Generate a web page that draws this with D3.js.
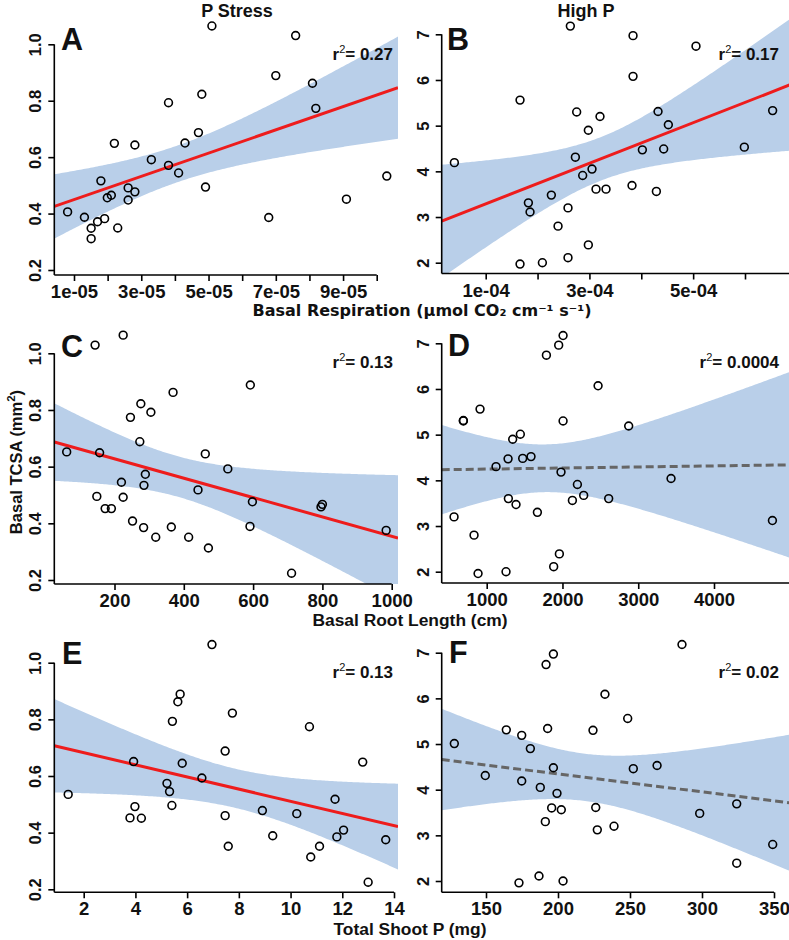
<!DOCTYPE html>
<html>
<head>
<meta charset="utf-8">
<script src="https://cdn.jsdelivr.net/npm/d3@7/dist/d3.min.js"></script>
<style>
  body { margin: 0; background: #fff; }
  svg text { font-family: "Liberation Sans", Arial, sans-serif; font-weight: bold; fill: #111; }
</style>
</head>
<body>
<svg id="chart" width="789" height="940"></svg>
<script>
'use strict';

// ---- data ----
// A: P stress, basal respiration vs TCSA
const aX = [0.81e-5, 1.31e-5, 1.51e-5, 1.51e-5, 1.70e-5, 1.91e-5, 1.80e-5, 1.99e-5, 2.11e-5, 2.20e-5,
            2.30e-5, 2.61e-5, 2.61e-5, 2.81e-5, 2.81e-5, 3.30e-5, 3.81e-5, 3.81e-5, 4.11e-5, 4.30e-5,
            4.70e-5, 4.80e-5, 4.91e-5, 5.10e-5, 6.79e-5, 7.00e-5, 7.59e-5, 8.09e-5, 8.19e-5, 9.10e-5, 10.30e-5];
const aY = [0.406, 0.387, 0.348, 0.311, 0.371, 0.382, 0.516, 0.456, 0.465, 0.649,
            0.349, 0.491, 0.448, 0.477, 0.643, 0.591, 0.793, 0.571, 0.544, 0.650,
            0.687, 0.823, 0.494, 1.065, 0.386, 0.889, 1.031, 0.862, 0.773, 0.451, 0.533];
// B: high P, basal respiration vs TCSA
const bX = [0.396e-4, 1.662e-4, 1.823e-4, 1.855e-4, 1.662e-4, 2.093e-4, 2.266e-4, 2.395e-4, 2.587e-4, 2.587e-4,
            2.632e-4, 2.729e-4, 2.754e-4, 2.870e-4, 2.979e-4, 2.979e-4, 3.050e-4, 3.127e-4, 3.204e-4, 3.320e-4,
            3.821e-4, 3.841e-4, 3.841e-4, 4.021e-4, 4.291e-4, 4.323e-4, 4.432e-4, 4.522e-4, 5.055e-4, 5.987e-4, 6.533e-4];
const bY = [4.19, 5.56, 3.31, 3.11, 1.97, 2.00, 3.48, 2.80, 3.20, 2.11,
            7.18, 4.31, 5.30, 3.91, 4.90, 2.39, 4.05, 3.61, 5.20, 3.61,
            3.69, 6.97, 6.08, 4.47, 3.56, 5.31, 4.49, 5.02, 6.74, 4.53, 5.33];
// C: P stress, basal root length vs TCSA
const cX = [62, 144, 157, 149, 173, 191, 225, 220, 225, 246, 252, 276, 273, 284, 289, 285,
            305, 319, 364, 369, 414, 441, 462, 471, 527, 592, 591, 598, 711, 796, 800, 984];
const cY = [0.652, 1.029, 0.649, 0.495, 0.452, 0.452, 1.064, 0.545, 0.492, 0.774, 0.408, 0.822, 0.688, 0.385, 0.573, 0.534,
            0.792, 0.351, 0.387, 0.862, 0.351, 0.518, 0.645, 0.313, 0.592, 0.888, 0.389, 0.476, 0.224, 0.458, 0.467, 0.375];
// D: high P, basal root length vs TCSA
const dX = [569, 692, 692, 833, 886, 912, 1123, 1255, 1282, 1286, 1343, 1387, 1444, 1475, 1585, 1669,
            1788, 1884, 1950, 1959, 1981, 2008, 2008, 2131, 2197, 2280, 2470, 2610, 2874, 3433, 4771];
const dY = [3.20, 5.31, 5.30, 2.80, 1.96, 5.56, 4.30, 2.00, 4.47, 3.60, 4.90, 3.47, 5.01, 4.48, 4.52, 3.30,
            6.74, 2.11, 6.96, 2.39, 4.18, 7.17, 5.30, 3.56, 3.91, 3.67, 6.07, 3.60, 5.19, 4.04, 3.12];
// E: P stress, total shoot P vs TCSA
const eX = [1.40, 3.79, 3.93, 3.98, 4.23, 5.22, 5.32, 5.41, 5.43, 5.64, 5.73, 5.81, 6.57, 6.96, 7.47,
            7.47, 7.59, 7.75, 8.91, 9.31, 10.24, 10.73, 10.78, 11.12, 11.72, 11.79, 12.05, 12.79, 13.00, 13.68];
const eY = [0.535, 0.452, 0.651, 0.492, 0.451, 0.574, 0.545, 0.496, 0.793, 0.862, 0.889, 0.645, 0.593, 1.064, 0.688,
            0.460, 0.352, 0.822, 0.478, 0.389, 0.467, 0.774, 0.314, 0.352, 0.518, 0.385, 0.409, 0.649, 0.225, 0.375];
// F: high P, total shoot P vs TCSA
const fX = [128, 149.5, 164.1, 174.8, 174.8, 180.8, 172.9, 186.8, 187.7, 191.2, 191.7, 192.8, 195.6, 196.8, 196.8, 199.3,
            202.3, 203.5, 224.3, 226.2, 227.3, 232.6, 238.9, 248.4, 252.3, 268.8, 286.1, 298.4, 324.1, 324.1, 349.1];
const fY = [5.01, 4.31, 5.31, 5.19, 4.19, 4.90, 1.96, 2.11, 4.05, 3.30, 6.74, 5.34, 3.60, 6.97, 4.48, 3.92,
            3.56, 2.00, 5.30, 3.61, 3.12, 6.09, 3.20, 5.56, 4.46, 4.53, 7.18, 3.48, 3.69, 2.39, 2.80];

// ---- ticks ----
const respTicksA = [1e-5, 2e-5, 3e-5, 4e-5, 5e-5, 6e-5, 7e-5, 8e-5, 9e-5, 1e-4];
const respLabelsA = ['1e-05', '', '3e-05', '', '5e-05', '', '7e-05', '', '9e-05', ''];
const respTicksB = [1e-4, 2e-4, 3e-4, 4e-4, 5e-4, 6e-4, 7e-4];
const respLabelsB = ['1e-04', '', '3e-04', '', '5e-04', '', ''];
const rootTicksC = [200, 400, 600, 800, 1000];
const rootLabelsC = ['200', '400', '600', '800', '1000'];
const rootTicksD = [1000, 2000, 3000, 4000, 5000];
const rootLabelsD = ['1000', '2000', '3000', '4000', ''];
const shootTicksE = [2, 4, 6, 8, 10, 12, 14];
const shootLabelsE = ['2', '4', '6', '8', '10', '12', '14'];
const shootTicksF = [150, 200, 250, 300, 350];
const shootLabelsF = ['150', '200', '250', '300', '350'];
const tcsaTicksStress = [0.2, 0.4, 0.6, 0.8, 1.0];
const tcsaLabelsStress = ['0.2', '0.4', '0.6', '0.8', '1.0'];
const tcsaTicksHigh = [2, 3, 4, 5, 6, 7];
const tcsaLabelsHigh = ['2', '3', '4', '5', '6', '7'];

const letters = ['A', 'B', 'C', 'D', 'E', 'F'];
const r2Labels = ['0.27', '0.17', '0.13', '0.0004', '0.13', '0.02'];
const significant = [true, true, true, false, true, false];

// ---- layout (pixels) ----
// xa: the two ticks whose pixel positions (xpx) were measured
const LEFT = { x0: 54.3, x1: 398 };
const RIGHT = { x0: 441.7, x1: 800 };
const panels = [
  { xs: aX, ys: aY, xt: respTicksA, xl: respLabelsA, yt: tcsaTicksStress, yl: tcsaLabelsStress,
    col: LEFT, bottom: 275, xa: [1e-5, 1e-4], xpx: [74, 376.7], ypx: [270, 44.3], letter: [61, 50], r2: [393, 60] },
  { xs: bX, ys: bY, xt: respTicksB, xl: respLabelsB, yt: tcsaTicksHigh, yl: tcsaLabelsHigh,
    col: RIGHT, bottom: 273.5, xa: [1e-4, 6e-4], xpx: [485.7, 745], ypx: [262.7, 34.3], letter: [447, 50], r2: [779, 60] },
  { xs: cX, ys: cY, xt: rootTicksC, xl: rootLabelsC, yt: tcsaTicksStress, yl: tcsaLabelsStress,
    col: LEFT, bottom: 584, xa: [200, 1000], xpx: [114.5, 391.7], ypx: [580, 353.3], letter: [61, 357], r2: [393, 368] },
  { xs: dX, ys: dY, xt: rootTicksD, xl: rootLabelsD, yt: tcsaTicksHigh, yl: tcsaLabelsHigh,
    col: RIGHT, bottom: 583, xa: [1000, 4000], xpx: [486.7, 714], ypx: [571.7, 343.3], letter: [448, 356], r2: [779, 368] },
  { xs: eX, ys: eY, xt: shootTicksE, xl: shootLabelsE, yt: tcsaTicksStress, yl: tcsaLabelsStress,
    col: LEFT, bottom: 892.3, xa: [2, 14], xpx: [83.7, 394], ypx: [889.3, 662.7], letter: [62, 664], r2: [393, 678] },
  { xs: fX, ys: fY, xt: shootTicksF, xl: shootLabelsF, yt: tcsaTicksHigh, yl: tcsaLabelsHigh,
    col: RIGHT, bottom: 892.3, xa: [150, 350], xpx: [486, 774], ypx: [881, 652.7], letter: [449, 663], r2: [779, 678] }
];

// t quantile (0.975), series expansion
function tq975(df) {
  const z = 1.959964;
  return z + (z ** 3 + z) / (4 * df) + (5 * z ** 5 + 16 * z ** 3 + 3 * z) / (96 * df * df)
    + (3 * z ** 7 + 19 * z ** 5 + 17 * z ** 3 - 15 * z) / (384 * df ** 3);
}

// ordinary least squares with 95% confidence band for the mean
function linfit(xs, ys) {
  const n = xs.length;
  const mx = d3.mean(xs), my = d3.mean(ys);
  let sxx = 0, sxy = 0;
  for (let i = 0; i < n; i++) {
    sxx += (xs[i] - mx) ** 2;
    sxy += (xs[i] - mx) * (ys[i] - my);
  }
  const b = sxy / sxx, a = my - b * mx;
  let sse = 0;
  for (let i = 0; i < n; i++) sse += (ys[i] - a - b * xs[i]) ** 2;
  const s = Math.sqrt(sse / (n - 2));
  const t = tq975(n - 2);
  return {
    y: x => a + b * x,
    half: x => t * s * Math.sqrt(1 / n + (x - mx) ** 2 / sxx)
  };
}

const svg = d3.select('#chart');
svg.append('rect').attr('width', 789).attr('height', 940).attr('fill', '#fff');
const defs = svg.append('defs');

panels.forEach((p, i) => {
  const xScale = d3.scaleLinear().domain(p.xa).range(p.xpx);
  const yScale = d3.scaleLinear()
    .domain([p.yt[0], p.yt[p.yt.length - 1]])
    .range(p.ypx);

  const g = svg.append('g');
  const clipId = 'clip' + i;
  const top = p.bottom - 300;
  defs.append('clipPath').attr('id', clipId)
    .append('rect')
    .attr('x', p.col.x0).attr('y', top)
    .attr('width', p.col.x1 - p.col.x0).attr('height', p.bottom - top);

  const f = linfit(p.xs, p.ys);
  const lo = xScale.invert(p.col.x0), hi = xScale.invert(p.col.x1);
  const grid = d3.range(0, 201).map(k => lo + (hi - lo) * k / 200);

  const area = d3.area()
    .x(d => xScale(d))
    .y0(d => yScale(f.y(d) - f.half(d)))
    .y1(d => yScale(f.y(d) + f.half(d)));
  g.append('path')
    .datum(grid)
    .attr('clip-path', `url(#${clipId})`)
    .attr('d', area)
    .attr('fill', '#b9cfe9');

  g.append('path')
    .datum([lo, hi])
    .attr('clip-path', `url(#${clipId})`)
    .attr('d', d3.line().x(d => xScale(d)).y(d => yScale(f.y(d))))
    .attr('fill', 'none')
    .attr('stroke', significant[i] ? '#ee1c1c' : '#666')
    .attr('stroke-width', 3)
    .attr('stroke-dasharray', significant[i] ? null : '8,4');

  g.selectAll('circle')
    .data(p.xs.map((v, k) => [v, p.ys[k]]))
    .enter().append('circle')
    .attr('cx', d => xScale(d[0]))
    .attr('cy', d => yScale(d[1]))
    .attr('r', 3.9)
    .attr('fill', 'none')
    .attr('stroke', '#000')
    .attr('stroke-width', 1.6);

  // x axis
  const xAxis = d3.axisBottom(xScale)
    .tickValues(p.xt)
    .tickFormat((d, k) => p.xl[k])
    .tickSize(6)
    .tickSizeOuter(0);
  const gx = g.append('g')
    .attr('transform', `translate(0,${p.bottom})`)
    .call(xAxis);
  gx.select('.domain').remove();
  gx.append('line')
    .attr('x1', p.col.x0).attr('x2', xScale(p.xt[p.xt.length - 1]))
    .attr('stroke', '#000').attr('stroke-width', 1.6);
  gx.selectAll('.tick line').attr('stroke', '#000').attr('stroke-width', 1.6);
  gx.selectAll('.tick text')
    .attr('y', 23).attr('dy', 0)
    .style('font-size', '18.5px')
    .style('font-family', '"Liberation Sans", Arial, sans-serif')
    .style('font-weight', 'bold')
    .attr('fill', '#111');

  // y axis
  const yAxis = d3.axisLeft(yScale)
    .tickValues(p.yt)
    .tickFormat((d, k) => p.yl[k])
    .tickSize(6)
    .tickSizeOuter(0);
  const gy = g.append('g')
    .attr('transform', `translate(${p.col.x0},0)`)
    .call(yAxis);
  gy.select('.domain').remove();
  gy.append('line')
    .attr('y1', p.bottom).attr('y2', yScale(p.yt[p.yt.length - 1]))
    .attr('stroke', '#000').attr('stroke-width', 1.6);
  gy.selectAll('.tick line').attr('stroke', '#000').attr('stroke-width', 1.6);
  gy.selectAll('.tick text')
    .attr('transform', 'rotate(-90)')
    .attr('text-anchor', 'middle')
    .attr('x', 0).attr('y', -13).attr('dy', 0)
    .style('font-size', '16.5px')
    .style('font-family', '"Liberation Sans", Arial, sans-serif')
    .style('font-weight', 'bold')
    .attr('fill', '#111');

  // panel letter
  svg.append('text')
    .attr('x', p.letter[0]).attr('y', p.letter[1])
    .style('font-size', '30.5px')
    .text(letters[i]);

  // r^2
  const r2 = svg.append('text')
    .attr('x', p.r2[0]).attr('y', p.r2[1])
    .attr('text-anchor', 'end')
    .style('font-size', '17px');
  r2.append('tspan').text('r');
  r2.append('tspan').attr('dy', -7).style('font-size', '11px').style('font-weight', 'normal').text('2');
  r2.append('tspan').attr('dy', 7).text('= ' + r2Labels[i]);
});

// column titles
svg.append('text').attr('x', 237).attr('y', 17).attr('text-anchor', 'middle')
  .style('font-size', '18px').text('P Stress');
svg.append('text').attr('x', 586).attr('y', 17).attr('text-anchor', 'middle')
  .style('font-size', '18px').text('High P');

// axis titles
svg.append('text').attr('x', 422).attr('y', 316).attr('text-anchor', 'middle')
  .style('font-family', '"DejaVu Sans", Verdana, sans-serif')
  .style('font-size', '16px')
  .text('Basal Respiration (\u00b5mol CO\u2082 cm\u207b\u00b9 s\u207b\u00b9)');
svg.append('text').attr('x', 410).attr('y', 626).attr('text-anchor', 'middle')
  .style('font-size', '17.4px')
  .text('Basal Root Length (cm)');
svg.append('text').attr('x', 410).attr('y', 935).attr('text-anchor', 'middle')
  .style('font-size', '17.4px')
  .text('Total Shoot P (mg)');

const yt = svg.append('text')
  .attr('transform', 'translate(22,462) rotate(-90)')
  .attr('text-anchor', 'middle')
  .style('font-size', '16.5px');
yt.append('tspan').text('Basal TCSA (mm');
yt.append('tspan').attr('dy', -7).style('font-size', '11.5px').text('2');
yt.append('tspan').attr('dy', 7).text(')');
</script>
</body>
</html>
